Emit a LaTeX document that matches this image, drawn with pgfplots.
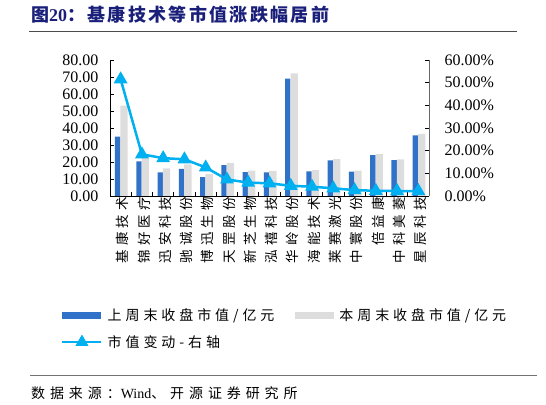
\documentclass[border=0pt]{standalone}
\usepackage{fontspec}
\usepackage{pgfplots}
\usepackage{pgfplotstable}
\pgfplotsset{compat=1.18}
\setmainfont{Liberation Serif}
\newfontfamily\cjk[LetterSpace=13]{Noto Sans CJK SC}
\newfontfamily\cjksp[LetterSpace=30]{Noto Sans CJK SC}
\newfontfamily\cjkleg[LetterSpace=28]{Noto Sans CJK SC}
\newfontfamily\cjksrc[LetterSpace=35]{Noto Sans CJK SC}

\definecolor{barblue}{HTML}{3072C8}
\definecolor{bargray}{HTML}{DDDDDD}
\definecolor{linecyan}{HTML}{00B0F0}
\definecolor{titlenavy}{HTML}{1A1F7A}

\pgfplotsset{
  barlegend/.style={legend image code/.code={\fill[##1] (0bp,-3.5bp) rectangle (39bp,3.5bp);}},
  linelegend/.style={legend image code/.code={\draw[##1, mark indices={2}] plot coordinates {(0bp,0bp) (19.5bp,0bp) (39bp,0bp)};}},
}

% x: category index, last/cur: market value (100m yuan), chg: change in %
\pgfplotstableread{
x last cur chg
0  35.0 53.1 51.5
1  20.3 24.0 18.4
2  13.9 16.3 16.7
3  15.9 18.6 16.2
4  11.1 12.8 12.6
5  18.1 19.5 7.3
6  14.0 15.0 5.9
7  13.9 14.8 5.6
8  69.1 72.2 4.5
9  14.5 15.2 4.1
10 20.9 21.7 3.4
11 14.4 14.9 2.6
12 24.0 24.6 2.3
13 21.1 21.6 2.2
14 35.7 36.5 2.2
}\data

\begin{document}
\begin{tikzpicture}
\useasboundingbox (0bp,0bp) rectangle (546bp,405bp);

% title
\node[anchor=west, text=titlenavy, inner sep=0pt, font=\fontsize{18bp}{20bp}\selectfont]
  at (31bp,390bp) {{\cjk\bfseries 图}{\bfseries 20}{\cjk\bfseries ：基康技术等市值涨跌幅居前}};
\draw[line width=1bp, black!70] (29bp,373.5bp) -- (517bp,373.5bp);

\begin{axis}[
  at={(110bp,209bp)}, anchor=south west,
  scale only axis, width=319bp, height=136bp,
  xmin=-0.5, xmax=14.5, ymin=0, ymax=80,
  axis y line*=left, axis x line*=bottom,
  axis line style={black, line width=0.8bp},
  tick align=inside, major tick length=4bp,
  major tick style={black, line width=0.8bp},
  xtick={-0.5,0.5,...,14.5}, x tick label as interval,
  xticklabels={基康技术,锦好医疗,迅安科技,驰诚股份,博迅生物,天罡股份,新芝生物,泓禧科技,华岭股份,海能技术,莱赛激光,中寰股份,倍益康,中科美菱,星辰科技},
  xticklabel style={rotate=90, anchor=east, inner sep=1bp, yshift=-2bp,
    font=\cjksp\fontsize{13.5bp}{14bp}\selectfont},
  ytick={0,10,...,80},
  yticklabel style={font=\fontsize{16bp}{16bp}\selectfont, xshift=-8bp,
    /pgf/number format/.cd, fixed, fixed zerofill, precision=2, assume math mode=true},
  legend columns=2,
  legend cell align=left,
  legend style={at={(-0.163,-0.80)}, anchor=north west, draw=none, fill=none,
    font=\cjkleg\fontsize{14bp}{16bp}\selectfont, row sep=9bp,
    nodes={inner xsep=5bp},
    /tikz/every even column/.append style={column sep=16bp}},
]
\addplot[ybar, bar width=0.25, bar shift=-0.14, fill=barblue, draw=none, barlegend]
  table[x=x, y=last] {\data};
\addlegendentry{上周末收盘市值/亿元}
\addplot[ybar, bar width=0.345, bar shift=0.16, fill=bargray, draw=none, barlegend]
  table[x=x, y=cur] {\data};
\addlegendentry{本周末收盘市值/亿元}
\addlegendimage{linecyan, line width=2.5bp, mark=triangle*, mark size=5bp, linelegend}
\addlegendentry{市值变动-右轴}
\end{axis}

\begin{axis}[
  at={(110bp,209bp)}, anchor=south west,
  scale only axis, width=319bp, height=136bp,
  xmin=-0.5, xmax=14.5, ymin=0, ymax=60,
  axis y line*=right, axis x line=none,
  axis line style={black!60, line width=0.8bp},
  tick align=inside, major tick length=4bp,
  major tick style={black, line width=0.8bp},
  ytick={0,10,...,60},
  yticklabel={\pgfmathprintnumber[fixed,fixed zerofill,precision=2,assume math mode=true]{\tick}\%},
  yticklabel style={font=\fontsize{16bp}{16bp}\selectfont, xshift=12bp},
  clip=false,
]
\addplot[linecyan, line width=2.5bp, mark=triangle*, mark size=5.5bp]
  table[x=x, y=chg] {\data};
\end{axis}

% source
\draw[line width=1bp, black!55] (30bp,29bp) -- (537bp,29bp);
\node[anchor=west, inner sep=0pt, font=\fontsize{14bp}{16bp}\selectfont]
  at (31bp,12bp) {{\cjksrc 数据来源：}Wind{\cjksrc 、开源证券研究所}};
\end{tikzpicture}
\end{document}
